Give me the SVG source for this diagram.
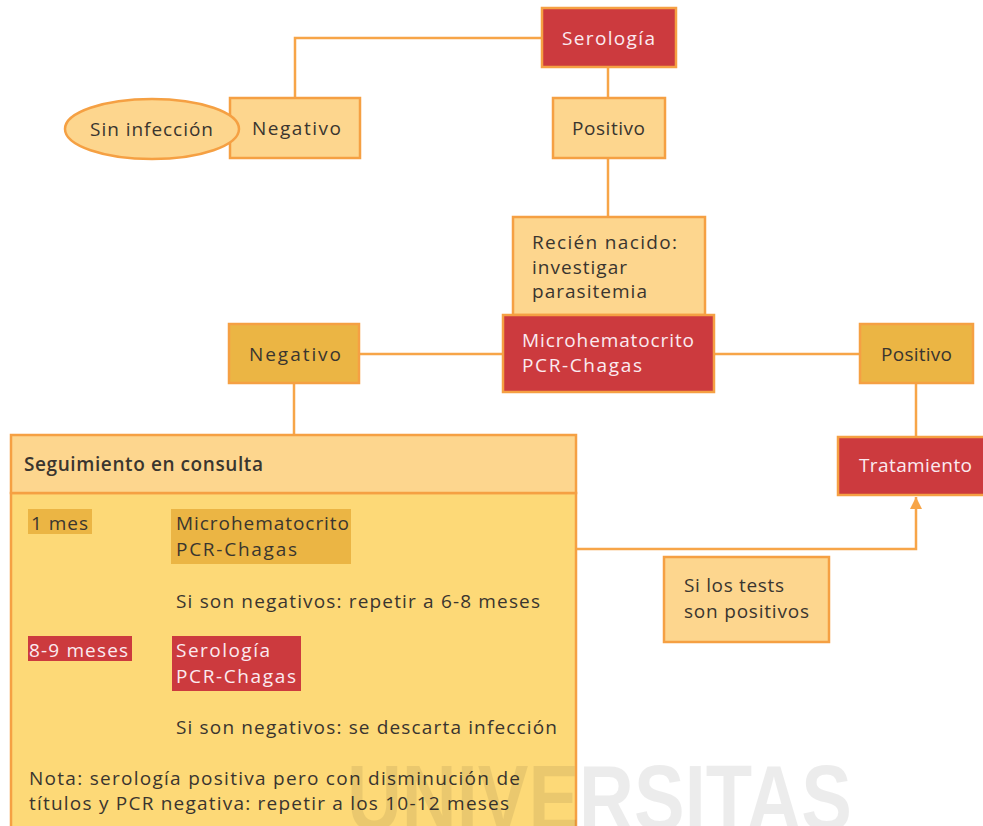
<svg xmlns="http://www.w3.org/2000/svg" width="983" height="826" viewBox="0 0 983 826">
<style>
text{font-family:"Open Sans","Liberation Sans",Arial,sans-serif;font-size:19px;fill:#3a352f}
.w{fill:#fbeaf0}
.red{fill:#cc3a3e;stroke:#f5a043;stroke-width:2.5}
.lt{fill:#fdd68e;stroke:#f5a043;stroke-width:2.5}
.md{fill:#ebb544;stroke:#f5a043;stroke-width:2.5}
.ln{fill:none;stroke:#f7a548;stroke-width:2.5}
</style>
<defs>
<marker id="ah" markerWidth="12" markerHeight="12" refX="12" refY="6" orient="auto" markerUnits="userSpaceOnUse"><path d="M0,0 L12,6 L0,12 Z" fill="#f7a548"/></marker>
</defs>
<rect width="983" height="826" fill="#fff"/>
<g id="connectors">
<path class="ln" d="M542,38 H295 V98"/>
<path class="ln" d="M608,67 V98"/>
<path class="ln" d="M608,158 V217"/>
<path class="ln" d="M359,354 H503"/>
<path class="ln" d="M714,354 H860"/>
<path class="ln" d="M294,383 V435"/>
<path class="ln" d="M916,383 V437"/>
<path class="ln" d="M576,549 H916 V497" marker-end="url(#ah)"/>
</g>
<g id="serologia"><rect class="red" x="542" y="8" width="134" height="59"/><text class="w" x="562" y="45" textLength="93">Serología</text></g>
<g id="negativo1"><rect class="lt" x="230" y="98" width="130" height="60"/><text x="252" y="135" textLength="89">Negativo</text></g>
<g id="sin-infeccion"><ellipse cx="152" cy="129" rx="87" ry="30" fill="#fdd68e" stroke="#f5a043" stroke-width="2.5"/><text x="90" y="136" textLength="123">Sin infección</text></g>
<g id="positivo1"><rect class="lt" x="553" y="98" width="112" height="60"/><text x="572" y="135" textLength="73">Positivo</text></g>
<g id="recien-nacido"><rect class="lt" x="513" y="217" width="192" height="98"/><text x="532" y="249" textLength="145">Recién nacido:</text><text x="532" y="274" textLength="95">investigar</text><text x="532" y="298" textLength="115">parasitemia</text></g>
<g id="microhematocrito"><rect class="red" x="503" y="315" width="211" height="77"/><text class="w" x="522" y="347" textLength="172">Microhematocrito</text><text class="w" x="522" y="372" textLength="120">PCR-Chagas</text></g>
<g id="negativo2"><rect class="md" x="229" y="324" width="130" height="59"/><text x="249" y="361" textLength="92">Negativo</text></g>
<g id="positivo2"><rect class="md" x="860" y="324" width="113" height="59"/><text x="881" y="361" textLength="71">Positivo</text></g>
<g id="tratamiento"><rect class="red" x="838" y="437" width="150" height="58"/><text class="w" x="859" y="472" textLength="113">Tratamiento</text></g>
<g id="si-tests"><rect class="lt" x="664" y="557" width="165" height="85"/><text x="684" y="592" textLength="100">Si los tests</text><text x="684" y="618" textLength="125">son positivos</text></g>
<g id="seguimiento">
<rect x="11" y="493" width="565" height="340" fill="#fdd977" stroke="#f5a043" stroke-width="2.5"/>
<rect class="lt" x="11" y="435" width="565" height="58"/>
<text x="24" y="471" textLength="239" style="font-weight:600">Seguimiento en consulta</text>
<rect x="28" y="509" width="64" height="25" fill="#ebb544"/>
<text x="31" y="530" textLength="57">1 mes</text>
<rect x="171" y="509" width="180" height="55" fill="#ebb544"/>
<text x="176" y="530" textLength="173">Microhematocrito</text>
<text x="176" y="556" textLength="121">PCR-Chagas</text>
<text x="176" y="608" textLength="364">Si son negativos: repetir a 6-8 meses</text>
<rect x="28" y="636" width="104" height="25" fill="#cc3a3e"/>
<text class="w" x="29" y="657" textLength="99">8-9 meses</text>
<rect x="172" y="636" width="129" height="55" fill="#cc3a3e"/>
<text class="w" x="176" y="657" textLength="94">Serología</text>
<text class="w" x="176" y="683" textLength="120">PCR-Chagas</text>
<text x="176" y="734" textLength="381">Si son negativos: se descarta infección</text>
<text x="29" y="785" textLength="491">Nota: serología positiva pero con disminución de</text>
<text x="29" y="810" textLength="480">títulos y PCR negativa: repetir a los 10-12 meses</text>
</g>
<g id="watermark" opacity="0.07">
<text x="347" y="830" textLength="505" lengthAdjust="spacingAndGlyphs" style="font-family:'Liberation Sans',Arial,sans-serif;font-size:92px;font-weight:bold;fill:#000">UNIVERSITAS</text>
</g>
</svg>
